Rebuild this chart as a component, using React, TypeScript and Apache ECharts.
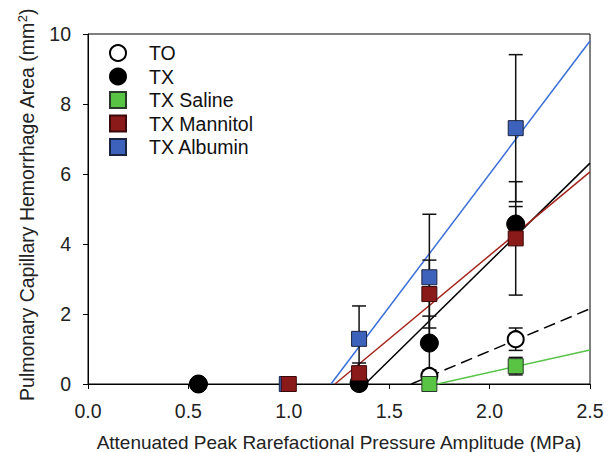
import React, { useEffect, useRef } from "react";
import * as echarts from "echarts";

const xTicks = [0, 0.5, 1.0, 1.5, 2.0, 2.5];
const yTicks = [0, 2, 4, 6, 8, 10];

const seriesNames = ["TO", "TX", "TX Saline", "TX Mannitol", "TX Albumin"];

const xTO = [0.55, 1.35, 1.7, 2.13];
const yTO = [0, 0, 0.23, 1.28];
const eTO = [0, 0, 0.1, 0.32];

const xTX = [0.55, 1.35, 1.7, 2.13];
const yTX = [0, 0.03, 1.17, 4.57];
const eTX = [0, 0, 0.77, 0.5];

const xSaline = [1.7, 2.13];
const ySaline = [0, 0.51];
const eSaline = [0, 0.25];

const xMannitol = [1.0, 1.35, 1.7, 2.13];
const yMannitol = [0, 0.31, 2.57, 4.16];
const eMannitol = [0, 0.29, 0.97, 1.62];

const xAlbumin = [0.99, 1.35, 1.7, 2.13];
const yAlbumin = [0, 1.29, 3.05, 7.31];
const eAlbumin = [0, 0.94, 1.8, 2.1];

// regression line end points [x, y]
const fitTO = [[1.61, 0], [2.5, 2.15]];
const fitTX = [[1.38, 0], [2.5, 6.31]];
const fitSaline = [[1.74, 0], [2.5, 0.97]];
const fitMannitol = [[1.23, 0], [2.5, 6.06]];
const fitAlbumin = [[1.21, 0], [2.5, 9.8]];

const FONT = "Liberation Sans, Arial, sans-serif";

const zip = (xs: number[], ys: number[]) => xs.map((x, i) => [x, ys[i]]);
const zip3 = (xs: number[], ys: number[], es: number[]) => xs.map((x, i) => [x, ys[i], es[i]]);

export default function App() {
  const ref = useRef<HTMLDivElement>(null);
  useEffect(() => {
    if (!ref.current) return;
    const chart = echarts.init(ref.current, undefined, { renderer: "svg" });

    const errData = [
      ...zip3(xTO, yTO, eTO),
      ...zip3(xTX, yTX, eTX),
      ...zip3(xSaline, ySaline, eSaline),
      ...zip3(xMannitol, yMannitol, eMannitol),
      ...zip3(xAlbumin, yAlbumin, eAlbumin),
    ].filter((d) => d[2] > 0);

    const lineSeries = (data: number[][], color: string, dashed = false) => ({
      type: "line",
      data,
      symbol: "none",
      silent: true,
      z: 1,
      lineStyle: { color, width: 1.5, type: dashed ? [12, 6] : "solid" },
    });

    const option: any = {
      animation: false,
      backgroundColor: "#fff",
      grid: {
        left: 88,
        top: 34,
        right: 22,
        bottom: 68,
        containLabel: false,
        outerBoundsMode: "none",
        show: true,
        borderColor: "#000",
        borderWidth: 1,
      },
      xAxis: {
        type: "value",
        min: 0,
        max: 2.5,
        interval: 0.5,
        name: "Attenuated Peak Rarefactional Pressure Amplitude (MPa)",
        nameLocation: "middle",
        nameGap: 49,
        nameTextStyle: { fontFamily: FONT, fontSize: 19, color: "#222" },
        axisLine: { lineStyle: { color: "#000", width: 1 } },
        axisTick: { inside: false, length: 5, lineStyle: { color: "#000" } },
        axisLabel: {
          fontFamily: FONT,
          fontSize: 19.5,
          color: "#222",
          margin: 17,
          formatter: (v: number) => (xTicks.includes(v) ? v.toFixed(1) : ""),
        },
        splitLine: { show: false },
      },
      yAxis: {
        type: "value",
        min: 0,
        max: 10,
        interval: 2,
        name: "{a|Pulmonary Capillary Hemorrhage Area (mm}{b|2}{a|)}",
        nameLocation: "middle",
        nameGap: 40,
        nameRotate: 90,
        nameTextStyle: {
          padding: [0, 0, 0, 8],
          rich: {
            a: { fontFamily: FONT, fontSize: 19.5, color: "#222", lineHeight: 22 },
            b: { fontFamily: FONT, fontSize: 13, color: "#222", lineHeight: 22, verticalAlign: "top", padding: [0, 0, 9, 0] },
          },
        },
        axisLine: { lineStyle: { color: "#000", width: 1 } },
        axisTick: { inside: false, length: 5, lineStyle: { color: "#000" } },
        axisLabel: {
          fontFamily: FONT,
          fontSize: 19.5,
          color: "#222",
          margin: 17,
          formatter: (v: number) => (yTicks.includes(v) ? String(v) : ""),
        },
        splitLine: { show: false },
      },
      legend: {
        orient: "vertical",
        left: 104,
        top: 38,
        itemWidth: 16,
        itemHeight: 16,
        itemGap: 3.5,
        textStyle: { fontFamily: FONT, fontSize: 19.5, color: "#111", padding: [0, 0, 0, 18], lineHeight: 18 },
        data: [
          { name: "TO", icon: "circle" },
          { name: "TX", icon: "circle" },
          { name: "TX Saline", icon: "rect" },
          { name: "TX Mannitol", icon: "rect" },
          { name: "TX Albumin", icon: "rect" },
        ],
      },
      series: [
        lineSeries(fitTO, "#000", true),
        lineSeries(fitTX, "#000"),
        lineSeries(fitSaline, "#55c446"),
        lineSeries(fitMannitol, "#a3261d"),
        lineSeries(fitAlbumin, "#3a6fd8"),
        {
          type: "custom",
          silent: true,
          z: 2,
          data: errData,
          renderItem: (params: any, api: any) => {
            const x = api.value(0);
            const y = api.value(1);
            const e = api.value(2);
            const top = api.coord([x, y + e]);
            const bot = api.coord([x, y - e]);
            const w = 7;
            const style = { stroke: "#111", lineWidth: 1.5 };
            return {
              type: "group",
              children: [
                { type: "line", shape: { x1: top[0], y1: top[1], x2: bot[0], y2: bot[1] }, style },
                { type: "line", shape: { x1: top[0] - w, y1: top[1], x2: top[0] + w, y2: top[1] }, style },
                { type: "line", shape: { x1: bot[0] - w, y1: bot[1], x2: bot[0] + w, y2: bot[1] }, style },
              ],
            };
          },
        },
        {
          name: "TO",
          type: "scatter",
          z: 3,
          symbol: "circle",
          symbolSize: 16,
          data: zip(xTO, yTO),
          itemStyle: { color: "#fff", borderColor: "#000", borderWidth: 2, opacity: 1 },
        },
        {
          name: "TX",
          type: "scatter",
          z: 4,
          symbol: "circle",
          symbolSize: 18,
          data: zip(xTX, yTX),
          itemStyle: { color: "#000", borderColor: "#000", borderWidth: 1, opacity: 1 },
        },
        {
          name: "TX Saline",
          type: "scatter",
          z: 5,
          symbol: "rect",
          symbolSize: 15,
          data: zip(xSaline, ySaline),
          itemStyle: { color: "#59c444", borderColor: "#2a3a2a", borderWidth: 1, opacity: 1 },
        },
        {
          name: "TX Albumin",
          type: "scatter",
          z: 5,
          symbol: "rect",
          symbolSize: 15,
          data: zip(xAlbumin, yAlbumin),
          itemStyle: { color: "#3d62bb", borderColor: "#1a2340", borderWidth: 1, opacity: 1 },
        },
        {
          name: "TX Mannitol",
          type: "scatter",
          z: 6,
          symbol: "rect",
          symbolSize: 15,
          data: zip(xMannitol, yMannitol),
          itemStyle: { color: "#8a1a1a", borderColor: "#3a0a0a", borderWidth: 1, opacity: 1 },
        },
      ],
    };
    chart.setOption(option);
    return () => chart.dispose();
  }, []);
  return <div ref={ref} style={{ position: "fixed", left: 0, top: 0, width: 612, height: 452 }} />;
}
